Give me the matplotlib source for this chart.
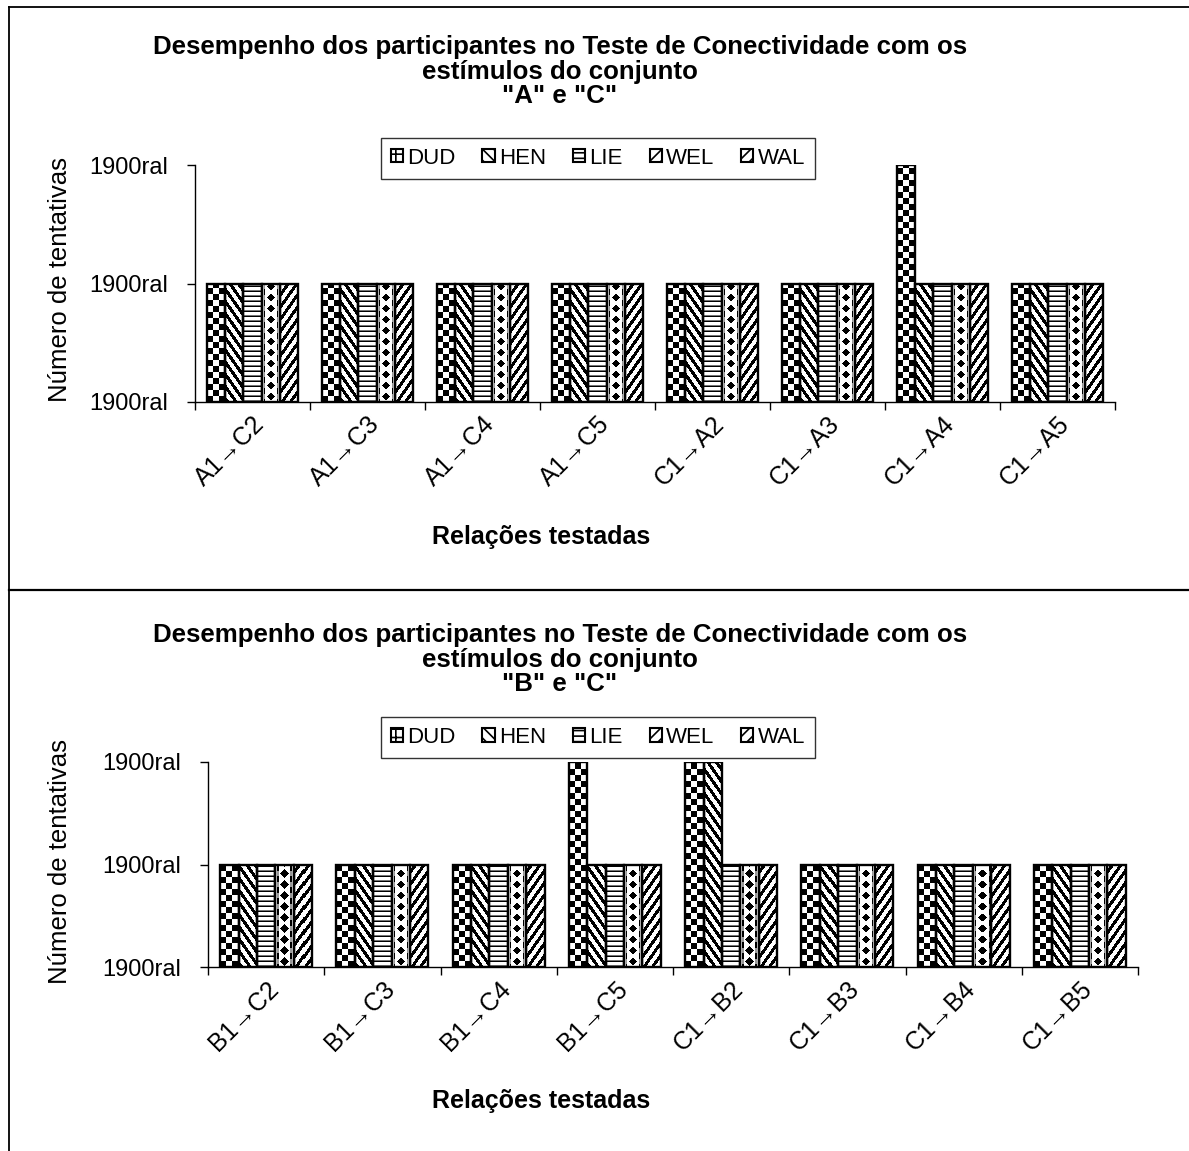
import numpy as np
import matplotlib
matplotlib.use('Agg')
import matplotlib.pyplot as plt
from matplotlib.patches import Patch
from matplotlib.lines import Line2D

plt.rcParams['font.family'] = ['Liberation Sans', 'DejaVu Sans']
plt.rcParams['hatch.linewidth'] = 1.2

# ---------------- data ----------------
participants = ['DUD', 'HEN', 'LIE', 'WEL', 'WAL']

relations_ac = ['A1→C2', 'A1→C3', 'A1→C4', 'A1→C5', 'C1→A2', 'C1→A3', 'C1→A4', 'C1→A5']
dud_ac = [1, 1, 1, 1, 1, 1, 2, 1]
hen_ac = [1, 1, 1, 1, 1, 1, 1, 1]
lie_ac = [1, 1, 1, 1, 1, 1, 1, 1]
wel_ac = [1, 1, 1, 1, 1, 1, 1, 1]
wal_ac = [1, 1, 1, 1, 1, 1, 1, 1]

relations_bc = ['B1→C2', 'B1→C3', 'B1→C4', 'B1→C5', 'C1→B2', 'C1→B3', 'C1→B4', 'C1→B5']
dud_bc = [1, 1, 1, 2, 2, 1, 1, 1]
hen_bc = [1, 1, 1, 1, 2, 1, 1, 1]
lie_bc = [1, 1, 1, 1, 1, 1, 1, 1]
wel_bc = [1, 1, 1, 1, 1, 1, 1, 1]
wal_bc = [1, 1, 1, 1, 1, 1, 1, 1]

y_ticks = [0, 1, 2]
y_tick_labels = ['1900ral', '1900ral', '1900ral']

title_ac = 'Desempenho dos participantes no Teste de Conectividade com os\nestímulos do conjunto\n"A" e "C"'
title_bc = 'Desempenho dos participantes no Teste de Conectividade com os\nestímulos do conjunto\n"B" e "C"'
x_label = 'Relações testadas'
y_label = 'Número de tentativas'

# ---------------- figure ----------------
W, H = 1189, 1151
fig = plt.figure(figsize=(W / 100, H / 100), dpi=100)
fig.patch.set_facecolor('white')


def fx(px):
    return px / W


def fy(py):
    return 1 - py / H


# frame lines
fig.add_artist(Line2D([fx(8.5), fx(8.5)], [fy(7), 0], color='black', lw=1.3))
fig.add_artist(Line2D([fx(8.5), 1], [fy(7), fy(7)], color='black', lw=1.3))
fig.add_artist(Line2D([fx(8.5), 1], [fy(590), fy(590)], color='black', lw=1.6))


def texture(kind, c0, c1, r0, r1):
    cols = np.arange(c0, c1)
    rows = np.arange(r0, r1)
    X, Y = np.meshgrid(cols - c0, r1 - 1 - rows)  # Y measured from bottom
    wid = c1 - c0
    out = np.ones(X.shape)
    if kind == 'DUD':
        out[((X // 6) + (Y // 6)) % 2 == 0] = 0.0
    elif kind == 'HEN':
        u = (X + 0.7 * Y) % 8.5
        out[u < 3.8] = 0.0
    elif kind == 'WAL':
        u = (X - 0.7 * Y) % 8.5
        out[u < 3.8] = 0.0
    elif kind == 'LIE':
        out[Y % 5 == 0] = 0.0
        out[Y % 5 == 1] = 0.45
    elif kind == 'WEL':
        xc = (wid - 1) / 2.0
        yy = (Y % 11) - 5
        out[np.abs(X - xc) + np.abs(yy) <= 4.0] = 0.0
        side = (np.abs(np.abs(X - xc) - 6.5) < 0.8)
        out[side & (np.abs(yy) >= 3)] = 0.0
        out[side & (np.abs(yy) < 3)] = 0.6
    return out


def panel(rect, cats, series, title, title_y, leg_y, ylab_y, xlab_y):
    ax = fig.add_axes(rect)
    n = len(cats)
    x = np.arange(n)
    ax.set_xlim(-0.5, n - 0.5)
    ax.set_ylim(0, 2)
    ax.set_autoscale_on(False)
    total = 0.79
    bw = total / len(series)
    for i, (name, vals) in enumerate(zip(participants, series)):
        pos = x - total / 2 + bw * (i + 0.5)
        bars = ax.bar(pos, vals, width=bw, facecolor='none', edgecolor='black',
                      linewidth=1.7, zorder=3)
        for patch in bars.patches:
            bx, by = patch.get_x(), patch.get_y()
            bwid, bh = patch.get_width(), patch.get_height()
            d = ax.transData.transform([[bx, by], [bx + bwid, by + bh]])
            c0, c1 = int(round(d[0, 0])), int(round(d[1, 0]))
            ybot, ytop = int(round(d[0, 1])), int(round(d[1, 1]))
            r0, r1 = H - ytop, H - ybot
            tex = texture(name, c0, c1, r0, r1)
            inv = ax.transData.inverted()
            e = inv.transform([[c0, ybot], [c1, ytop]])
            im = ax.imshow(tex, extent=(e[0, 0], e[1, 0], e[0, 1], e[1, 1]),
                           origin='upper', cmap='gray', vmin=0, vmax=1,
                           interpolation='nearest', aspect='auto', zorder=2)
            im.set_clip_path(patch)
    ax.set_xlim(-0.5, n - 0.5)
    ax.set_ylim(0, 2)
    for s in ['top', 'right']:
        ax.spines[s].set_visible(False)
    for s in ['left', 'bottom']:
        ax.spines[s].set_linewidth(1.0)
    ax.set_yticks(y_ticks)
    ax.set_yticklabels(y_tick_labels, fontsize=17)
    ax.tick_params(axis='y', direction='out', length=5.8, width=1.0, pad=13.5)
    ax.set_xticks(x)
    ax.set_xticklabels(cats, rotation=45, ha='right', va='top',
                       rotation_mode='anchor', fontsize=18)
    ax.set_xticks(np.arange(n + 1) - 0.5, minor=True)
    ax.tick_params(axis='x', which='major', length=0, pad=7)
    ax.tick_params(axis='x', which='minor', direction='out', length=6, width=1.0)
    ax.set_facecolor('none')

    fig.text(fx(560), title_y, title, ha='center', va='center', fontsize=18.6,
             fontweight='bold', linespacing=1.02)
    handles = [Patch(facecolor='white', edgecolor='black', hatch=h, linewidth=1.5)
               for h in ['++', '\\\\\\', '---', '///', '///']]
    leg = fig.legend(handles, participants, loc='center',
                     bbox_to_anchor=(fx(598), leg_y), ncol=5, fontsize=16,
                     frameon=True, fancybox=False, shadow=False,
                     handlelength=0.55, handleheight=0.55, handletextpad=0.2,
                     columnspacing=1.2, borderpad=0.45, borderaxespad=0)
    leg.get_frame().set_edgecolor('black')
    leg.get_frame().set_linewidth(1.0)
    fig.text(fx(60), ylab_y, y_label, rotation=90, ha='center', va='center',
             fontsize=18.5)
    fig.text(fx(541), xlab_y, x_label, ha='center', va='center', fontsize=18,
             fontweight='bold')
    return ax


ax1 = panel([fx(195), fy(402), fx(1115) - fx(195), fy(165) - fy(402)],
            relations_ac, [dud_ac, hen_ac, lie_ac, wel_ac, wal_ac],
            title_ac, fy(71.5), fy(158), fy(280), fy(537))
ax2 = panel([fx(208), fy(967), fx(1138) - fx(208), fy(762) - fy(967)],
            relations_bc, [dud_bc, hen_bc, lie_bc, wel_bc, wal_bc],
            title_bc, fy(659.5), fy(737.5), fy(862), fy(1101))

fig.savefig('out.png', dpi=100)
